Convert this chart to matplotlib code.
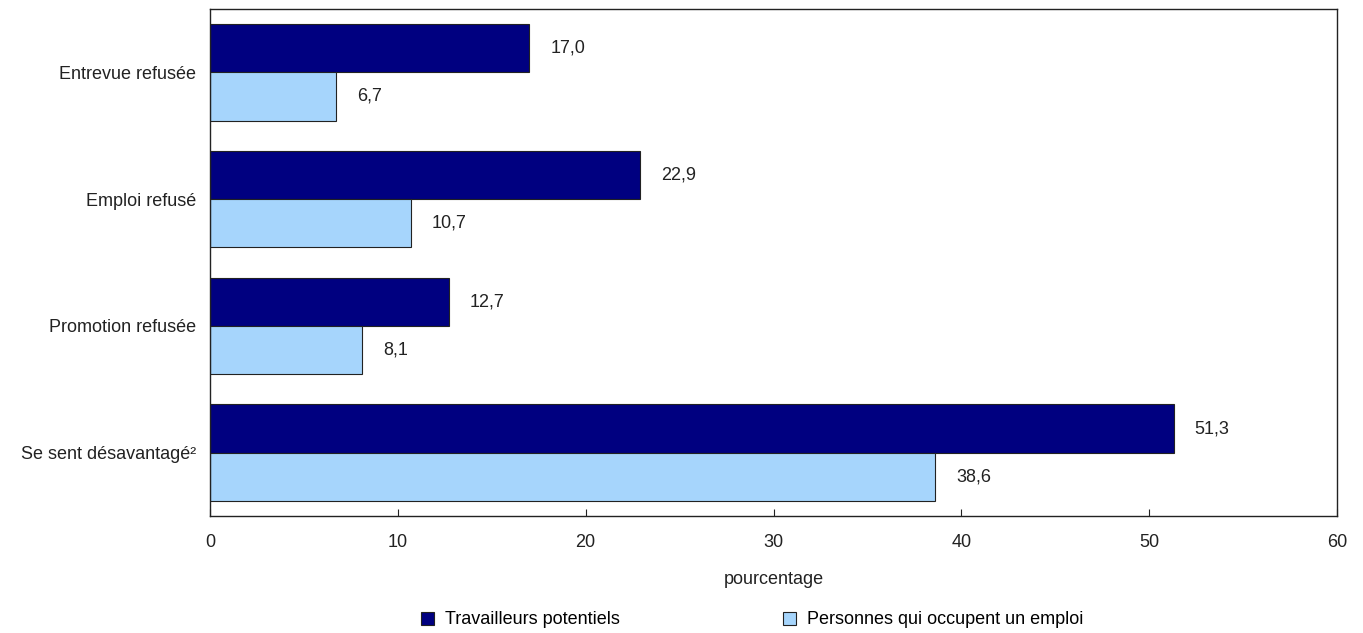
import matplotlib
matplotlib.use('Agg')
import matplotlib.pyplot as plt
import numpy as np

plt.rcParams['font.family'] = ['Liberation Sans Narrow', 'Liberation Sans', 'DejaVu Sans']

categories = ['Entrevue refusée', 'Emploi refusé', 'Promotion refusée', 'Se sent désavantagé²']
potentiels = [17.0, 22.9, 12.7, 51.3]
occupes = [6.7, 10.7, 8.1, 38.6]
series_names = ['Travailleurs potentiels', 'Personnes qui occupent un emploi']
dark = '#000080'
light = '#a6d5fc'

fig = plt.figure(figsize=(13.63, 6.33), dpi=100)
ax = fig.add_axes([210 / 1363, 1 - 516 / 633, (1337 - 210) / 1363, (516 - 9) / 633])

y = np.arange(len(categories))
h = 0.38
b1 = ax.barh(y - h / 2, potentiels, height=h, color=dark, edgecolor='#222222', linewidth=0.8,
             label=series_names[0])
b2 = ax.barh(y + h / 2, occupes, height=h, color=light, edgecolor='#222222', linewidth=0.8,
             label=series_names[1])

for bars, vals in ((b1, potentiels), (b2, occupes)):
    for bar, v in zip(bars, vals):
        ax.annotate('{:.1f}'.format(v).replace('.', ','),
                    xy=(v, bar.get_y() + bar.get_height() / 2),
                    xytext=(21, 0), textcoords='offset pixels',
                    va='center', ha='left', fontsize=13, color='#222222')

ax.set_xlim(0, 60)
ax.set_ylim(len(categories) - 0.5, -0.5)
ax.set_xticks(range(0, 61, 10))
ax.set_yticks(y)
ax.set_yticklabels(categories)
ax.tick_params(axis='y', length=0, pad=10, labelsize=13, colors='#222222')
ax.tick_params(axis='x', direction='in', length=5, pad=13, labelsize=13, colors='#222222')
for s in ax.spines.values():
    s.set_linewidth(1.0)
    s.set_color('#222222')
ax.set_xlabel('pourcentage', fontsize=13, color='#222222', labelpad=14)

fig.legend(handles=[b1, b2], loc='center', bbox_to_anchor=(752 / 1363, 1 - 620 / 633),
           ncol=2, frameon=False, fontsize=13, columnspacing=9.0, handlelength=0.75,
           handleheight=0.75, handletextpad=0.6)

fig.savefig('out.png', dpi=100)
